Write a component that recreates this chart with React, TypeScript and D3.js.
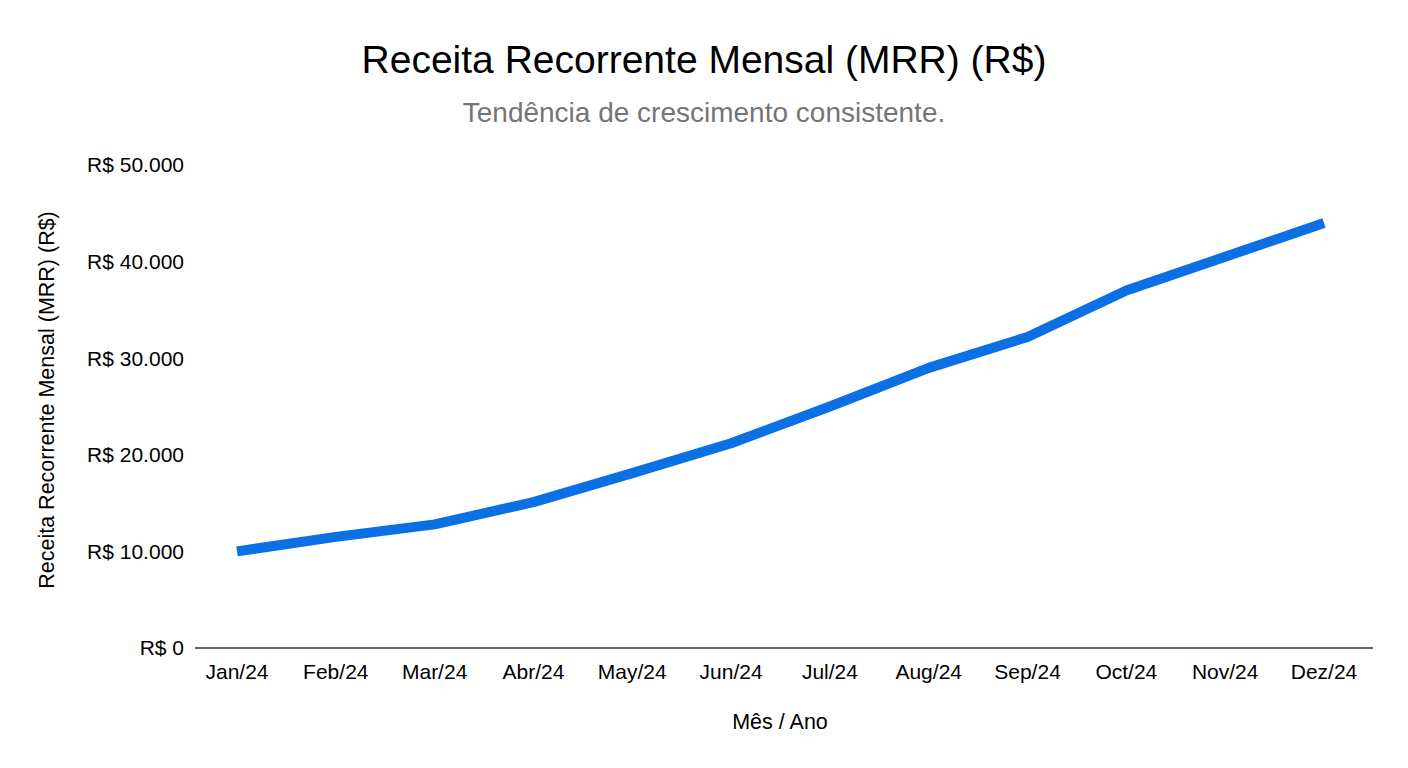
import React from "react";
import * as d3 from "d3";

const months = ["Jan/24", "Feb/24", "Mar/24", "Abr/24", "May/24", "Jun/24", "Jul/24", "Aug/24", "Sep/24", "Oct/24", "Nov/24", "Dez/24"];
const mrr = [10000, 11500, 12800, 15100, 18100, 21200, 25000, 29000, 32200, 37000, 40500, 44000];
const yTicks = [0, 10000, 20000, 30000, 40000, 50000];

const W = 1408;
const H = 768;
const FONT = "'Liberation Sans', Arial, sans-serif";

const fmt = (v: number) => "R$ " + d3.format(",")(v).replace(/,/g, ".");

export default function App() {
  const x = d3.scalePoint<string>().domain(months).range([237, 1324]);
  const y = d3.scaleLinear().domain([0, 50000]).range([648, 165]);
  const line = d3
    .line<number>()
    .x((_, i) => x(months[i]) as number)
    .y((d) => y(d));

  return (
    <svg width={W} height={H} style={{ position: "absolute", left: 0, top: 0, background: "#fff" }} fontFamily={FONT}>
      <rect x={0} y={0} width={W} height={H} fill="#fff" />
      <text x={704} y={73} textAnchor="middle" fontSize={39} fill="#000">
        Receita Recorrente Mensal (MRR) (R$)
      </text>
      <text x={704} y={122} textAnchor="middle" fontSize={28} fill="#757575">
        Tendência de crescimento consistente.
      </text>
      {yTicks.map((t) => (
        <text key={t} x={184} y={y(t)} dy="0.35em" textAnchor="end" fontSize={21} fill="#000">
          {fmt(t)}
        </text>
      ))}
      <line x1={195} x2={1373} y1={y(0)} y2={y(0)} stroke="#333" strokeWidth={1.5} />
      {months.map((m) => (
        <text key={m} x={x(m)} y={679} textAnchor="middle" fontSize={21} fill="#000">
          {m}
        </text>
      ))}
      <text x={780} y={729} textAnchor="middle" fontSize={21.5} fill="#000">
        Mês / Ano
      </text>
      <text transform={`translate(54,400) rotate(-90)`} textAnchor="middle" fontSize={21.5} fill="#000">
        Receita Recorrente Mensal (MRR) (R$)
      </text>
      <path d={line(mrr) ?? ""} fill="none" stroke="#0b70e3" strokeWidth={10} strokeLinejoin="round" />
    </svg>
  );
}
